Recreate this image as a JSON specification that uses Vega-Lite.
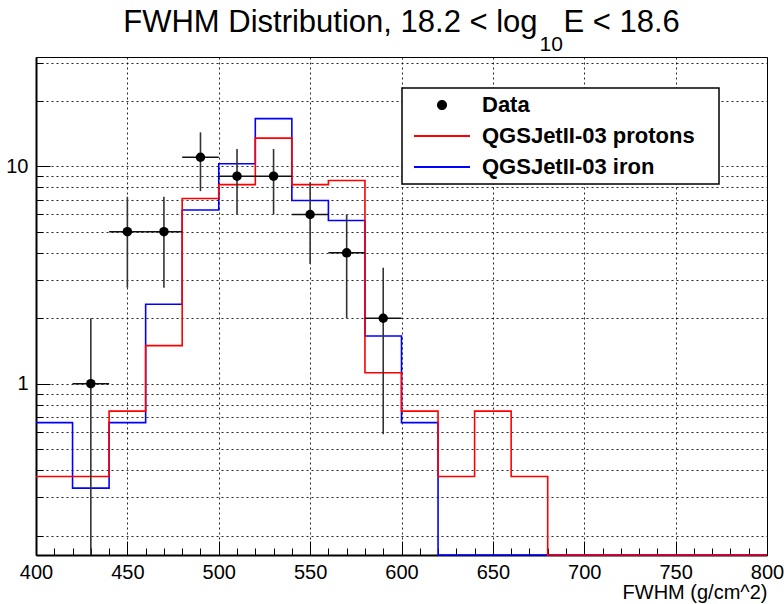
{
  "$schema": "https://vega.github.io/schema/vega-lite/v6.json",
  "width": 731,
  "height": 498,
  "autosize": "none",
  "padding": {"left": 36, "top": 57, "right": 17, "bottom": 49},
  "background": "white",
  "title": {
    "text": "FWHM Distribution, 18.2 < log\u00a0\u00a0\u00a0E < 18.6",
    "anchor": "middle",
    "frame": "group",
    "font": "Liberation Sans",
    "fontSize": 31,
    "fontWeight": "normal",
    "color": "#000",
    "offset": -6
  },
  "datasets": {
    "hist": [
      {"series": "QGSJetII-03 iron", "edge": 400, "value": 0.662},
      {"series": "QGSJetII-03 iron", "edge": 420, "value": 0.331},
      {"series": "QGSJetII-03 iron", "edge": 440, "value": 0.662},
      {"series": "QGSJetII-03 iron", "edge": 460, "value": 2.318},
      {"series": "QGSJetII-03 iron", "edge": 480, "value": 6.293},
      {"series": "QGSJetII-03 iron", "edge": 500, "value": 10.27},
      {"series": "QGSJetII-03 iron", "edge": 520, "value": 16.56},
      {"series": "QGSJetII-03 iron", "edge": 540, "value": 6.955},
      {"series": "QGSJetII-03 iron", "edge": 560, "value": 5.63},
      {"series": "QGSJetII-03 iron", "edge": 580, "value": 1.656},
      {"series": "QGSJetII-03 iron", "edge": 600, "value": 0.662},
      {"series": "QGSJetII-03 iron", "edge": 620, "value": 0},
      {"series": "QGSJetII-03 iron", "edge": 640, "value": 0},
      {"series": "QGSJetII-03 iron", "edge": 660, "value": 0},
      {"series": "QGSJetII-03 iron", "edge": 680, "value": 0},
      {"series": "QGSJetII-03 iron", "edge": 700, "value": 0},
      {"series": "QGSJetII-03 iron", "edge": 720, "value": 0},
      {"series": "QGSJetII-03 iron", "edge": 740, "value": 0},
      {"series": "QGSJetII-03 iron", "edge": 760, "value": 0},
      {"series": "QGSJetII-03 iron", "edge": 780, "value": 0},
      {"series": "QGSJetII-03 iron", "edge": 800, "value": 0},
      {"series": "QGSJetII-03 protons", "edge": 400, "value": 0.374},
      {"series": "QGSJetII-03 protons", "edge": 420, "value": 0.374},
      {"series": "QGSJetII-03 protons", "edge": 440, "value": 0.748},
      {"series": "QGSJetII-03 protons", "edge": 460, "value": 1.496},
      {"series": "QGSJetII-03 protons", "edge": 480, "value": 7.108},
      {"series": "QGSJetII-03 protons", "edge": 500, "value": 8.23},
      {"series": "QGSJetII-03 protons", "edge": 520, "value": 13.47},
      {"series": "QGSJetII-03 protons", "edge": 540, "value": 8.23},
      {"series": "QGSJetII-03 protons", "edge": 560, "value": 8.6},
      {"series": "QGSJetII-03 protons", "edge": 580, "value": 1.122},
      {"series": "QGSJetII-03 protons", "edge": 600, "value": 0.748},
      {"series": "QGSJetII-03 protons", "edge": 620, "value": 0.374},
      {"series": "QGSJetII-03 protons", "edge": 640, "value": 0.748},
      {"series": "QGSJetII-03 protons", "edge": 660, "value": 0.374},
      {"series": "QGSJetII-03 protons", "edge": 680, "value": 0},
      {"series": "QGSJetII-03 protons", "edge": 700, "value": 0},
      {"series": "QGSJetII-03 protons", "edge": 720, "value": 0},
      {"series": "QGSJetII-03 protons", "edge": 740, "value": 0},
      {"series": "QGSJetII-03 protons", "edge": 760, "value": 0},
      {"series": "QGSJetII-03 protons", "edge": 780, "value": 0},
      {"series": "QGSJetII-03 protons", "edge": 800, "value": 0}
    ],
    "points": [
      {"series": "Data", "fwhm": 430, "n": 1, "lo": 0, "hi": 2, "xlo": 420, "xhi": 440},
      {"series": "Data", "fwhm": 450, "n": 5, "lo": 2.764, "hi": 7.236, "xlo": 440, "xhi": 460},
      {"series": "Data", "fwhm": 470, "n": 5, "lo": 2.764, "hi": 7.236, "xlo": 460, "xhi": 480},
      {"series": "Data", "fwhm": 490, "n": 11, "lo": 7.683, "hi": 14.317, "xlo": 480, "xhi": 500},
      {"series": "Data", "fwhm": 510, "n": 9, "lo": 6, "hi": 12, "xlo": 500, "xhi": 520},
      {"series": "Data", "fwhm": 530, "n": 9, "lo": 6, "hi": 12, "xlo": 520, "xhi": 540},
      {"series": "Data", "fwhm": 550, "n": 6, "lo": 3.551, "hi": 8.449, "xlo": 540, "xhi": 560},
      {"series": "Data", "fwhm": 570, "n": 4, "lo": 2, "hi": 6, "xlo": 560, "xhi": 580},
      {"series": "Data", "fwhm": 590, "n": 2, "lo": 0.586, "hi": 3.414, "xlo": 580, "xhi": 600}
    ]
  },
  "layer": [
    {
      "data": {"name": "hist"},
      "transform": [{"filter": "datum.series === 'QGSJetII-03 iron'"}],
      "mark": {"type": "line", "interpolate": "step-after", "strokeWidth": 1.6},
      "encoding": {
        "x": {
          "field": "edge", "type": "quantitative",
          "scale": {"domain": [400, 800], "nice": false, "zero": false},
          "axis": {
            "orient": "bottom",
            "values": [400, 450, 500, 550, 600, 650, 700, 750, 800],
            "tickSize": -14, "tickWidth": 1, "labelPadding": 21,
            "grid": true, "domain": true, "domainWidth": 2,
            "labelFlush": false, "labelOverlap": false, "labelBound": false,
            "format": "d",
            "title": "FWHM (g/cm^2)", "titleAnchor": "end", "titleAlign": "right",
            "titleFontSize": 20, "titleBaseline": "alphabetic", "titleY": 43
          }
        },
        "y": {
          "field": "value", "type": "quantitative",
          "scale": {"type": "log", "domain": [0.163, 31.8], "nice": false, "clamp": true},
          "axis": {
            "orient": "left",
            "values": [1, 10],
            "tickSize": -14, "tickWidth": 1, "labelPadding": 22,
            "grid": false, "domain": true, "domainWidth": 2,
            "labelFlush": false, "labelOverlap": false, "labelBound": false,
            "format": "~g", "title": null
          }
        },
        "color": {
          "field": "series", "type": "nominal",
          "scale": {
            "domain": ["Data", "QGSJetII-03 protons", "QGSJetII-03 iron"],
            "range": ["#000000", "#ff0000", "#0000ff"]
          },
          "legend": {
            "orient": "none", "legendX": 366, "legendY": 31,
            "title": null,
            "fillColor": "white", "strokeColor": "#000",
            "padding": 1.5,
            "clipHeight": 31, "rowPadding": 0,
            "symbolSize": 3136, "symbolStrokeWidth": 2,
            "symbolOffset": 27.5, "labelOffset": 29,
            "labelFont": "Liberation Sans", "labelFontWeight": "bold",
            "labelFontSize": 22, "labelColor": "#000", "labelLimit": 0,
            "labelExpr": "datum.label + '\u00a0\u2800'",
            "encode": {
              "legend": {"update": {"strokeWidth": {"value": 1.5}}},
              "symbols": {
                "update": {
                  "shape": {"signal": "datum.value === 'Data' ? 'M-0.18,0A0.18,0.18,0,1,0,0.18,0A0.18,0.18,0,1,0,-0.18,0Z' : 'stroke'"},
                  "fill": {"signal": "datum.value === 'Data' ? '#000' : 'transparent'"},
                  "stroke": {"scale": "color", "field": "value"},
                  "strokeWidth": {"signal": "datum.value === 'Data' ? 0 : 2"},
                  "opacity": {"value": 1}
                }
              }
            }
          }
        }
      }
    },
    {
      "data": {"name": "hist"},
      "transform": [{"filter": "datum.series === 'QGSJetII-03 protons'"}],
      "mark": {"type": "line", "interpolate": "step-after", "strokeWidth": 1.6},
      "encoding": {
        "x": {
          "field": "edge", "type": "quantitative",
          "scale": {"domain": [400, 800], "nice": false, "zero": false},
          "axis": {
            "orient": "bottom",
            "values": [400, 410, 420, 430, 440, 450, 460, 470, 480, 490, 500, 510, 520, 530, 540, 550, 560, 570, 580, 590, 600, 610, 620, 630, 640, 650, 660, 670, 680, 690, 700, 710, 720, 730, 740, 750, 760, 770, 780, 790, 800],
            "tickSize": -7, "tickWidth": 1,
            "labels": false, "grid": false, "domain": false, "title": null
          }
        },
        "y": {
          "field": "value", "type": "quantitative",
          "scale": {"type": "log", "domain": [0.163, 31.8], "nice": false, "clamp": true},
          "axis": {
            "orient": "left",
            "values": [0.2, 0.3, 0.4, 0.5, 0.6, 0.7, 0.8, 0.9, 1, 2, 3, 4, 5, 6, 7, 8, 9, 10, 20, 30],
            "tickSize": -7, "tickWidth": 1,
            "labels": false, "grid": true, "domain": false, "title": null
          }
        },
        "color": {"field": "series", "type": "nominal"}
      }
    },
    {
      "data": {"name": "points"},
      "mark": {"type": "rule", "color": "#333", "strokeWidth": 1.6},
      "encoding": {
        "x": {
          "field": "fwhm", "type": "quantitative",
          "axis": {
            "orient": "top", "ticks": false, "labels": false, "domain": false, "grid": false,
            "title": "10", "titleX": 503, "titleY": -7, "titleAlign": "left", "titleAnchor": "start",
            "titleBaseline": "alphabetic", "titleFontSize": 21, "titleAngle": 0
          }
        },
        "y": {"field": "lo", "type": "quantitative", "axis": null},
        "y2": {"field": "hi"}
      }
    },
    {
      "data": {"name": "points"},
      "mark": {"type": "rule", "color": "#111", "strokeWidth": 1.6},
      "encoding": {
        "x": {"field": "xlo", "type": "quantitative", "axis": null},
        "x2": {"field": "xhi"},
        "y": {"field": "n", "type": "quantitative", "axis": null}
      }
    },
    {
      "data": {"name": "points"},
      "mark": {"type": "point", "filled": true, "size": 90, "opacity": 1},
      "encoding": {
        "x": {"field": "fwhm", "type": "quantitative", "axis": null},
        "y": {"field": "n", "type": "quantitative", "axis": null},
        "color": {"field": "series", "type": "nominal"}
      }
    }
  ],
  "resolve": {"axis": {"x": "independent", "y": "independent"}},
  "config": {
    "view": {"stroke": "#000", "strokeWidth": 1},
    "axis": {
      "labelFont": "Liberation Sans", "labelFontSize": 20, "labelColor": "#000",
      "tickColor": "#000", "domainColor": "#000",
      "gridColor": "#000", "gridDash": [2, 3], "gridOpacity": 0.85, "gridWidth": 1,
      "titleFont": "Liberation Sans", "titleFontWeight": "normal", "titleColor": "#000"
    }
  }
}
